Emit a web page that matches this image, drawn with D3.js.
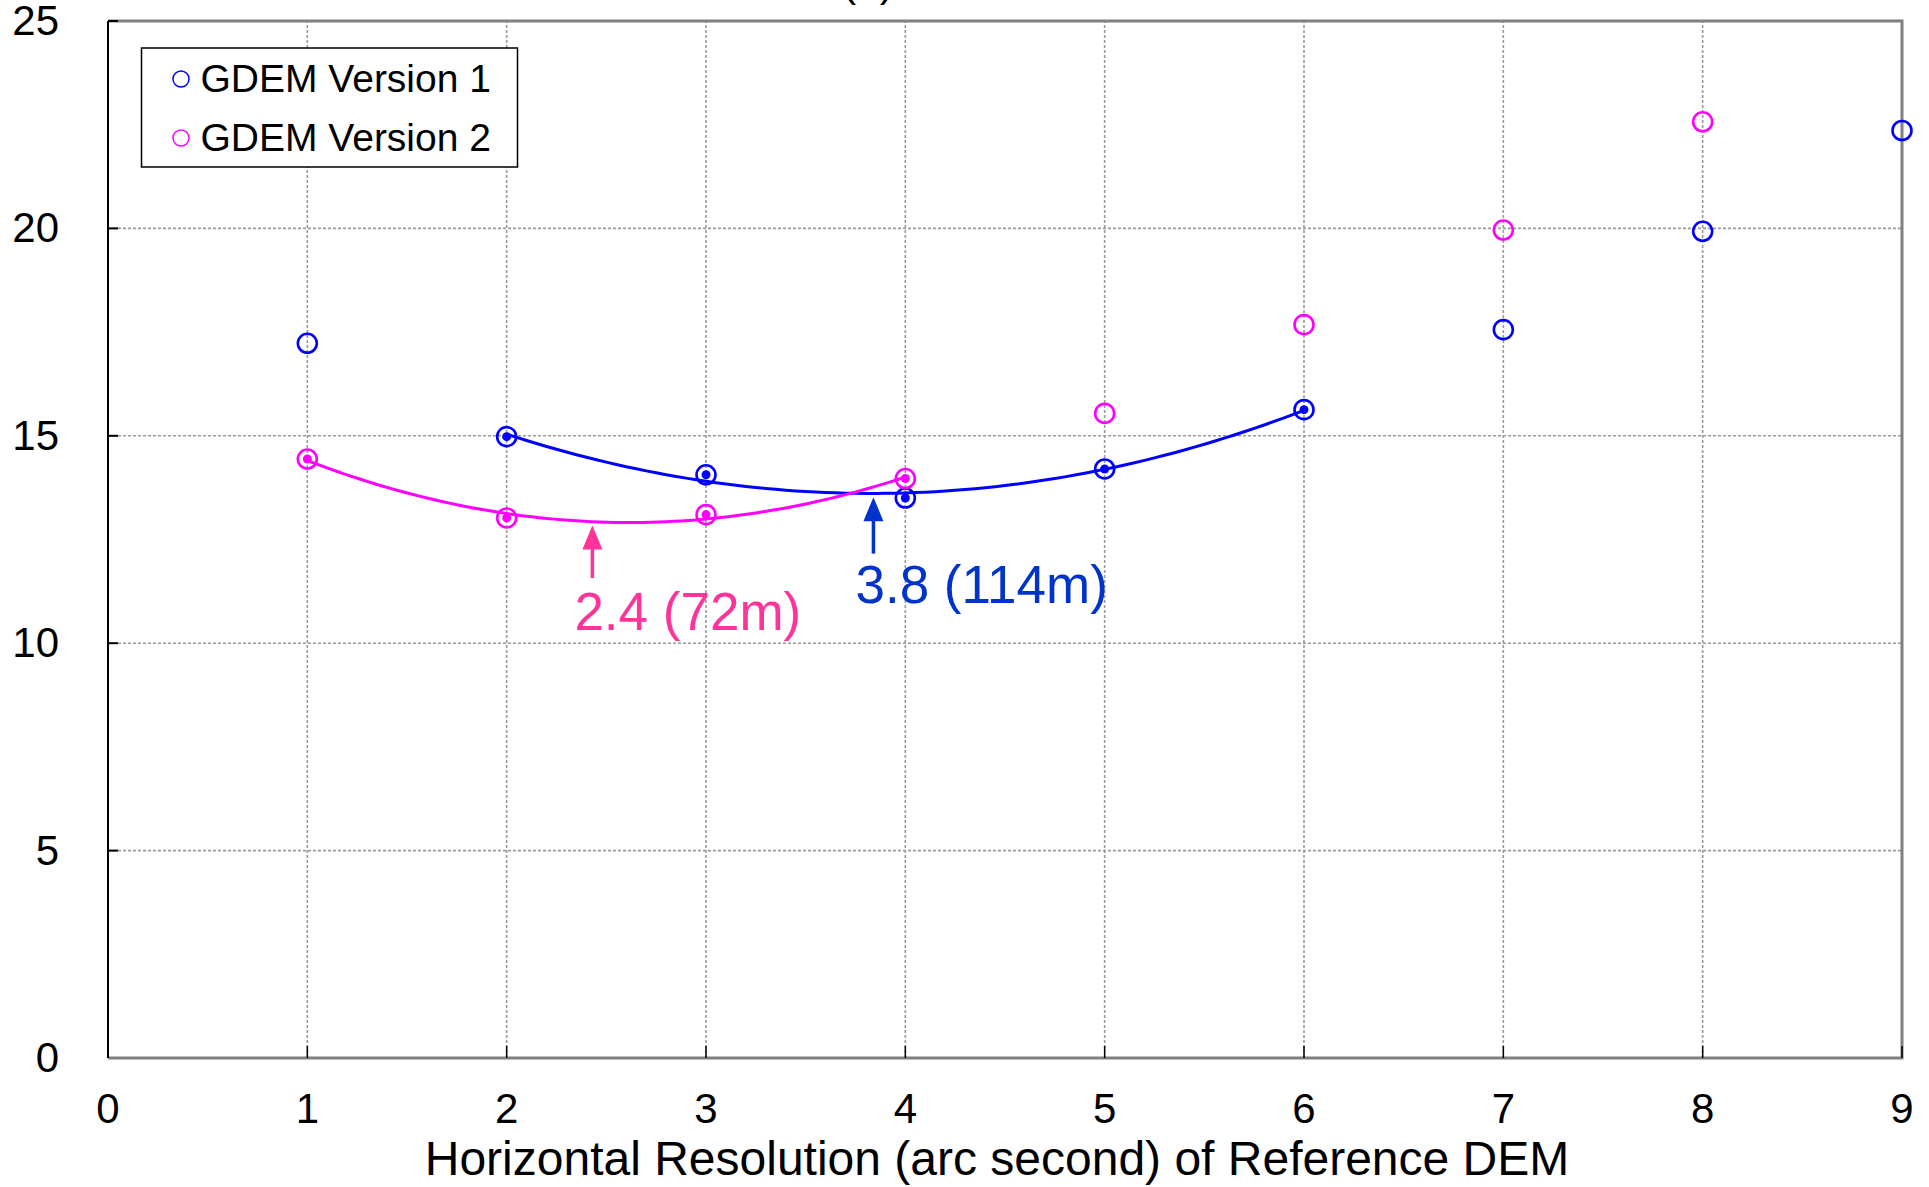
<!DOCTYPE html>
<html>
<head>
<meta charset="utf-8">
<script src="https://cdn.jsdelivr.net/npm/d3@7"></script>
<style>
    body { margin: 0; background: #fff; }
    svg { display: block; font-family: "Liberation Sans", Arial, Helvetica, sans-serif; }
    .tick-label { font-size: 42px; fill: #000; }
    .axis-title { font-size: 48px; fill: #000; }
    .legend-text { font-size: 39px; fill: #000; }
</style>
</head>
<body>
<div id="chart"></div>
<script>
// data
const resolution = [1, 2, 3, 4, 5, 6, 7, 8, 9];
const version1 = [17.23, 14.98, 14.06, 13.50, 14.20, 15.63, 17.56, 19.93, 22.36];
const version2 = [14.44, 13.02, 13.10, 13.97, 15.54, 17.68, 19.96, 22.57, null];
const fitRange1 = [2, 6];   // points used for the V1 quadratic
const fitRange2 = [1, 4];   // points used for the V2 quadratic
const xTicks = [0, 1, 2, 3, 4, 5, 6, 7, 8, 9];
const yTicks = [0, 5, 10, 15, 20, 25];
const optimumX = [3.84, 2.43];
const optimumLabels = ["3.8 (114m)", "2.4 (72m)"];
const seriesNames = ["GDEM Version 1", "GDEM Version 2"];

const width = 1929, height = 1187;
const margin = {left: 108, right: 27, top: 21, bottom: 129};
const colors = ["#0000ff", "#ff00ff"];
const labelColors = ["#0033cc", "#ff3399"];

const svg = d3.select("#chart").append("svg")
    .attr("width", width)
    .attr("height", height);

const x = d3.scaleLinear().domain([0, 9]).range([margin.left, width - margin.right]);
const y = d3.scaleLinear().domain([0, 25]).range([height - margin.bottom, margin.top]);

// gridlines
svg.append("g").selectAll("line").data(xTicks.slice(1, -1)).enter().append("line")
    .attr("x1", d => x(d)).attr("x2", d => x(d))
    .attr("y1", y(0)).attr("y2", y(25))
    .attr("stroke", "#9a9a9a").attr("stroke-width", 1.6)
    .attr("stroke-dasharray", "3,2");
svg.append("g").selectAll("line").data(yTicks.slice(1, -1)).enter().append("line")
    .attr("x1", x(0)).attr("x2", x(9))
    .attr("y1", d => y(d)).attr("y2", d => y(d))
    .attr("stroke", "#9a9a9a").attr("stroke-width", 1.6)
    .attr("stroke-dasharray", "3,2");

// frame: grey top/right/bottom, black left
svg.append("path")
    .attr("d", `M${x(0)},${y(25)}H${x(9)}V${y(0)}H${x(0)}`)
    .attr("fill", "none").attr("stroke", "#808080").attr("stroke-width", 3);
svg.append("line")
    .attr("x1", x(0)).attr("x2", x(0)).attr("y1", y(0)).attr("y2", y(25))
    .attr("stroke", "#000").attr("stroke-width", 2);

// inward ticks
svg.append("g").selectAll("line").data(xTicks.slice(1)).enter().append("line")
    .attr("x1", d => x(d)).attr("x2", d => x(d))
    .attr("y1", y(0)).attr("y2", y(0) - 12)
    .attr("stroke", "#000").attr("stroke-width", 1.5);
svg.append("g").selectAll("line").data(yTicks.slice(1)).enter().append("line")
    .attr("x1", x(0)).attr("x2", x(0) + 10)
    .attr("y1", d => y(d)).attr("y2", d => y(d))
    .attr("stroke", "#000").attr("stroke-width", 2);

// tick labels
svg.append("g").selectAll("text").data(xTicks).enter().append("text")
    .attr("class", "tick-label")
    .attr("x", d => x(d))
    .attr("y", y(0) + 54)
    .attr("dominant-baseline", "middle")
    .style("text-anchor", "middle")
    .text(d => d);
svg.append("g").selectAll("text").data(yTicks).enter().append("text")
    .attr("class", "tick-label")
    .attr("x", x(0) - 49)
    .attr("y", d => y(d) + 3)
    .attr("dominant-baseline", "middle")
    .style("text-anchor", "end")
    .text(d => d);

svg.append("text")
    .attr("class", "axis-title")
    .attr("x", (x(0) + x(9)) / 2 - 8)
    .attr("y", height - 12)
    .style("text-anchor", "middle")
    .text("Horizontal Resolution (arc second) of Reference DEM");

// panel title, mostly clipped off the top
svg.append("text")
    .attr("class", "tick-label")
    .attr("x", 868)
    .attr("y", -4)
    .style("text-anchor", "middle")
    .text("(a)");

// least squares quadratic through the points inside a range
function quadFit(xs, ys, range) {
    const pts = xs.map((d, i) => [d, ys[i]])
        .filter(p => p[1] !== null && p[0] >= range[0] && p[0] <= range[1]);
    let s = [0, 0, 0, 0, 0], t = [0, 0, 0];
    pts.forEach(p => {
        for (let k = 0; k < 5; k++) s[k] += Math.pow(p[0], k);
        for (let k = 0; k < 3; k++) t[k] += p[1] * Math.pow(p[0], k);
    });
    const m = [[s[0], s[1], s[2], t[0]], [s[1], s[2], s[3], t[1]], [s[2], s[3], s[4], t[2]]];
    for (let i = 0; i < 3; i++) {
        for (let j = i + 1; j < 3; j++) {
            const f = m[j][i] / m[i][i];
            for (let k = i; k < 4; k++) m[j][k] -= f * m[i][k];
        }
    }
    const c = [0, 0, 0];
    for (let i = 2; i >= 0; i--) {
        let v = m[i][3];
        for (let k = i + 1; k < 3; k++) v -= m[i][k] * c[k];
        c[i] = v / m[i][i];
    }
    return xv => c[0] + c[1] * xv + c[2] * xv * xv;
}

const line = d3.line().x(d => x(d[0])).y(d => y(d[1]));
[[version1, fitRange1], [version2, fitRange2]].forEach(([vals, range], si) => {
    const f = quadFit(resolution, vals, range);
    const xs = d3.range(range[0], range[1] + 0.001, (range[1] - range[0]) / 80);
    svg.append("path")
        .datum(xs.map(v => [v, f(v)]))
        .attr("d", line)
        .attr("fill", "none")
        .attr("stroke", colors[si])
        .attr("stroke-width", 3);
});

// markers
[version1, version2].forEach((vals, si) => {
    const range = si === 0 ? fitRange1 : fitRange2;
    const pts = resolution.map((d, i) => [d, vals[i]]).filter(p => p[1] !== null);
    const g = svg.append("g");
    g.selectAll("circle.ring").data(pts).enter().append("circle")
        .attr("class", "ring")
        .attr("cx", d => x(d[0]))
        .attr("cy", d => y(d[1]))
        .attr("r", 9.5)
        .attr("fill", "none")
        .attr("stroke", colors[si])
        .attr("stroke-width", 2.6);
    g.selectAll("circle.dot").data(pts.filter(p => p[0] >= range[0] && p[0] <= range[1])).enter().append("circle")
        .attr("class", "dot")
        .attr("cx", d => x(d[0]))
        .attr("cy", d => y(d[1]))
        .attr("r", 4.5)
        .attr("fill", colors[si]);
});

// optimum arrows and labels
const arrowTop = [13.52, 12.84];
const arrowBottom = [12.16, 11.57];
const labelBase = [10.97, 10.32];
optimumX.forEach((ox, i) => {
    const g = svg.append("g").attr("fill", labelColors[i]);
    const tx = x(ox), ty = y(arrowTop[i]), by = y(arrowBottom[i]);
    g.append("line")
        .attr("x1", tx).attr("x2", tx)
        .attr("y1", ty + 20).attr("y2", by)
        .attr("stroke", labelColors[i]).attr("stroke-width", 3.5);
    g.append("path")
        .attr("d", `M${tx},${ty}L${tx - 10},${ty + 24}L${tx + 10},${ty + 24}Z`);
    g.append("text")
        .attr("x", tx - 18)
        .attr("y", y(labelBase[i]))
        .style("font-size", "53px")
        .text(optimumLabels[i]);
});

// legend
const legend = svg.append("g").attr("transform", "translate(141.5,48)");
legend.append("rect")
    .attr("width", 376).attr("height", 119)
    .attr("fill", "#fff").attr("stroke", "#000").attr("stroke-width", 1.5);
seriesNames.forEach((name, i) => {
    legend.append("circle")
        .attr("cx", 39.5).attr("cy", 31 + i * 59)
        .attr("r", 8)
        .attr("fill", "none")
        .attr("stroke", colors[i]).attr("stroke-width", 1.5);
    legend.append("text")
        .attr("class", "legend-text")
        .attr("x", 59)
        .attr("y", 34 + i * 59)
        .attr("dominant-baseline", "middle")
        .text(name);
});
</script>
</body>
</html>
